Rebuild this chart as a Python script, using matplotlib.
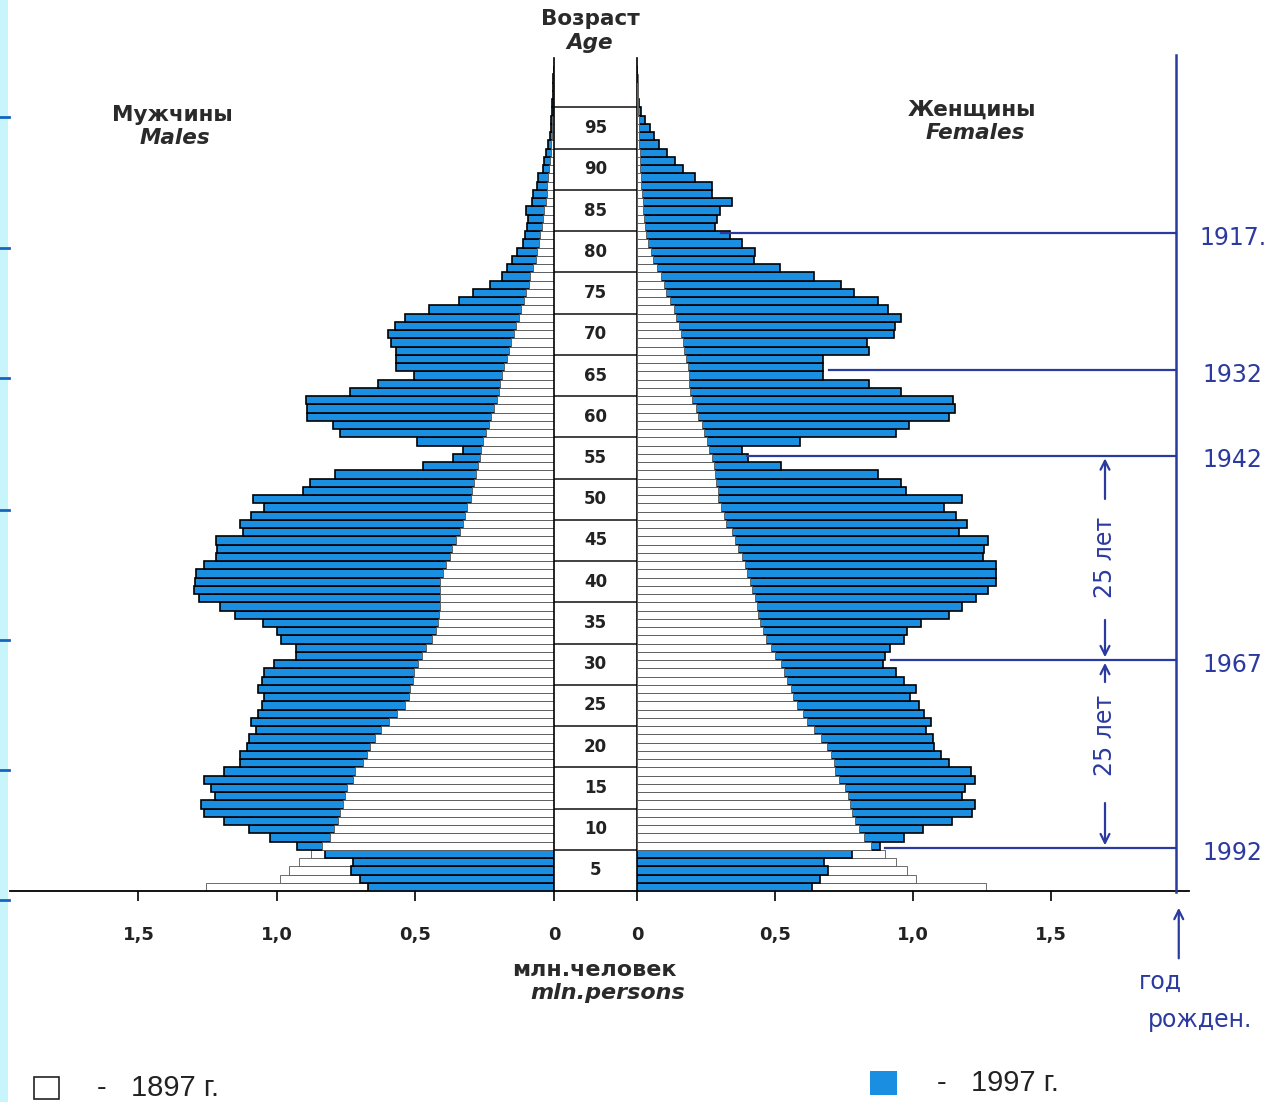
import numpy as np
import matplotlib.pyplot as plt
from matplotlib.patches import Rectangle
from matplotlib.lines import Line2D

# ---- data (mln persons, by single year of age 0..99) ----
ages = np.arange(100)

male_1897 = [1.256, 0.99, 0.956, 0.92, 0.877, 0.836, 0.81, 0.795, 0.78, 0.772,
             0.763, 0.755, 0.747, 0.726, 0.717, 0.689, 0.675, 0.666, 0.647, 0.623,
             0.594, 0.566, 0.538, 0.525, 0.519, 0.51, 0.504, 0.49, 0.477, 0.462,
             0.44, 0.425, 0.42, 0.415, 0.41, 0.41, 0.41, 0.41, 0.40, 0.39,
             0.377, 0.368, 0.353, 0.34, 0.33, 0.32, 0.315, 0.30, 0.296, 0.29,
             0.283, 0.275, 0.268, 0.262, 0.255, 0.245, 0.236, 0.226, 0.217, 0.207,
             0.198, 0.194, 0.189, 0.18, 0.17, 0.164, 0.155, 0.146, 0.138, 0.128,
             0.118, 0.11, 0.10, 0.092, 0.085, 0.075, 0.066, 0.06, 0.055, 0.05,
             0.045, 0.04, 0.035, 0.03, 0.027, 0.024, 0.021, 0.018, 0.015, 0.012,
             0.01, 0.008, 0.007, 0.006, 0.005, 0.004, 0.003, 0.002, 0.002, 0.001]

male_1997 = [0.673, 0.70, 0.733, 0.724, 0.828, 0.927, 1.025, 1.10, 1.19, 1.265,
             1.274, 1.224, 1.24, 1.265, 1.19, 1.132, 1.132, 1.108, 1.10, 1.075,
             1.094, 1.07, 1.053, 1.047, 1.07, 1.053, 1.047, 1.01, 0.93, 0.93,
             0.985, 1.00, 1.05, 1.15, 1.207, 1.283, 1.30, 1.296, 1.292, 1.264,
             1.22, 1.217, 1.22, 1.123, 1.132, 1.094, 1.047, 1.085, 0.906, 0.881,
             0.789, 0.472, 0.364, 0.33, 0.494, 0.774, 0.798, 0.892, 0.892, 0.896,
             0.736, 0.636, 0.504, 0.572, 0.572, 0.572, 0.589, 0.598, 0.575, 0.538,
             0.453, 0.343, 0.292, 0.23, 0.189, 0.17, 0.151, 0.132, 0.113, 0.104,
             0.099, 0.093, 0.10, 0.081, 0.075, 0.063, 0.057, 0.04, 0.036, 0.03,
             0.02, 0.016, 0.012, 0.01, 0.008, 0.006, 0.004, 0.003, 0.002, 0.001]

female_1897 = [1.263, 1.01, 0.977, 0.94, 0.90, 0.848, 0.821, 0.804, 0.79, 0.78,
               0.77, 0.763, 0.754, 0.731, 0.718, 0.712, 0.703, 0.687, 0.665, 0.64,
               0.617, 0.60, 0.58, 0.564, 0.557, 0.545, 0.532, 0.52, 0.50, 0.485,
               0.466, 0.456, 0.447, 0.437, 0.434, 0.428, 0.418, 0.41, 0.40, 0.39,
               0.38, 0.367, 0.356, 0.343, 0.324, 0.314, 0.305, 0.295, 0.293, 0.288,
               0.284, 0.279, 0.27, 0.262, 0.255, 0.244, 0.235, 0.222, 0.212, 0.20,
               0.192, 0.19, 0.188, 0.183, 0.178, 0.172, 0.167, 0.16, 0.153, 0.143,
               0.134, 0.12, 0.106, 0.097, 0.087, 0.072, 0.059, 0.05, 0.04, 0.033,
               0.028, 0.025, 0.022, 0.02, 0.018, 0.016, 0.014, 0.012, 0.011, 0.01,
               0.009, 0.008, 0.007, 0.006, 0.005, 0.004, 0.003, 0.002, 0.002, 0.001]

female_1997 = [0.633, 0.663, 0.693, 0.678, 0.78, 0.88, 0.966, 1.035, 1.142, 1.213,
               1.224, 1.178, 1.19, 1.223, 1.21, 1.13, 1.10, 1.076, 1.072, 1.047,
               1.066, 1.04, 1.02, 0.99, 1.01, 0.968, 0.94, 0.89, 0.90, 0.915,
               0.968, 0.977, 1.03, 1.13, 1.176, 1.227, 1.27, 1.30, 1.30, 1.30,
               1.252, 1.258, 1.27, 1.167, 1.195, 1.157, 1.114, 1.176, 0.973, 0.955,
               0.873, 0.523, 0.403, 0.38, 0.589, 0.94, 0.987, 1.129, 1.152, 1.144,
               0.958, 0.84, 0.674, 0.674, 0.674, 0.84, 0.835, 0.93, 0.936, 0.958,
               0.911, 0.873, 0.788, 0.74, 0.64, 0.519, 0.424, 0.428, 0.38, 0.337,
               0.283, 0.29, 0.30, 0.345, 0.27, 0.27, 0.21, 0.168, 0.136, 0.107,
               0.08, 0.062, 0.047, 0.029, 0.013, 0.008, 0.004, 0.002, 0.001, 0.0]

tick_values = [0, 0.5, 1.0, 1.5]
tick_labels = ['0', '0,5', '1,0', '1,5']
age_labels = list(range(5, 100, 5))

# birth-year marks drawn by hand on the female side
birth_years = ['1917.', '1932', '1942', '1967', '1992']
birth_ages = [79.8, 63.2, 52.8, 28.0, 5.2]

BLUE = '#1a8ee0'
INK = '#2b3a9e'
BOLD = 'DejaVu Sans'
PLAIN = 'Liberation Sans'

W, H = 1268, 1102
fig = plt.figure(figsize=(W / 100, H / 100), dpi=100)
fig.patch.set_facecolor('white')


def box(x0, y0, x1, y1):
    return [x0 / W, 1 - y1 / H, (x1 - x0) / W, (y1 - y0) / H]


def fpos(x, y):
    return x / W, 1 - y / H


ax_m = fig.add_axes(box(10, 58, 554, 891))
ax_c = fig.add_axes(box(554, 58, 637, 891))
ax_f = fig.add_axes(box(637, 58, 1189, 891))


def draw_side(ax, old, new):
    old = np.asarray(old)
    new = np.asarray(new)
    new_back = new >= old
    back = np.maximum(old, new)
    front = np.minimum(old, new)
    # the larger bar of each age goes behind, the smaller one in front
    ax.barh(ages, back, height=1, align='edge',
            color=np.where(new_back, BLUE, 'white'),
            edgecolor=np.where(new_back, 'black', '#555555'),
            linewidth=np.where(new_back, 1.2, 0.6), zorder=2)
    ax.barh(ages, front, height=1, align='edge',
            color=np.where(new_back, 'white', BLUE),
            edgecolor=np.where(new_back, '#555555', 'black'),
            linewidth=np.where(new_back, 0.6, 1.2), zorder=3)


draw_side(ax_m, male_1897, male_1997)
draw_side(ax_f, female_1897, female_1997)

ax_m.set_xlim(544 / 277, 0)
ax_f.set_xlim(0, 552 / 276)
for ax in (ax_m, ax_f, ax_c):
    ax.set_ylim(0, 101)
    ax.set_yticks([])
    ax.set_facecolor('none')
    ax.spines['top'].set_visible(False)
    ax.spines['bottom'].set_linewidth(1.3)

for ax in (ax_m, ax_f):
    ax.spines['left'].set_visible(False)
    ax.spines['right'].set_visible(False)
    ax.set_xticks(tick_values)
    ax.set_xticklabels(tick_labels, fontsize=13, fontweight='bold', family=BOLD,
                       color='#222222')
    ax.tick_params(axis='x', length=7, width=1.2, pad=18)

# central age column
ax_c.set_xlim(0, 1)
ax_c.set_xticks([])
ax_c.spines['left'].set_linewidth(1.2)
ax_c.spines['right'].set_linewidth(1.2)
ax_c.hlines(age_labels, 0, 1, color='#333333', linewidth=1.3)
for a in age_labels:
    ax_c.text(0.5, a - 2.5, str(a), ha='center', va='center', fontsize=12,
              fontweight='bold', family=BOLD, color='#222222')

# titles
title_kw = dict(ha='center', va='center', fontsize=15.5, fontweight='bold',
                family=BOLD, color='#2a2a2a')
fig.text(*fpos(590, 19), 'Возраст', **title_kw)
fig.text(*fpos(590, 43), 'Age', style='italic', **title_kw)
fig.text(*fpos(172, 115), 'Мужчины', **title_kw)
fig.text(*fpos(175, 138), 'Males', style='italic', **title_kw)
fig.text(*fpos(972, 110), 'Женщины', **title_kw)
fig.text(*fpos(975, 133), 'Females', style='italic', **title_kw)
unit_kw = dict(title_kw, fontsize=16)
fig.text(*fpos(594, 970), 'млн.человек', **unit_kw)
fig.text(*fpos(608, 993), 'mln.persons', style='italic', **unit_kw)

# hand-drawn birth-year marks
x_vline = (1176 - 637) / 276
ax_f.plot([x_vline, x_vline], [-0.1, 101.4], color=INK, linewidth=1.8,
          clip_on=False, zorder=4)
for label, a in zip(birth_years, birth_ages):
    x0 = female_1997[int(round(a))] + 0.02
    ax_f.plot([x0, x_vline], [a, a], color=INK, linewidth=1.6, clip_on=False,
              zorder=4)
    ax_f.text(x_vline + 0.205, a - 0.6, label, ha='center', va='center',
              fontsize=17, color=INK, clip_on=False)

x_arr = (1105 - 637) / 276
arrow = dict(arrowstyle='->', color=INK, lw=1.6, mutation_scale=16)
ax_f.annotate('', xy=(x_arr, 52.8), xytext=(x_arr, 47.2), arrowprops=arrow,
              annotation_clip=False)
ax_f.annotate('', xy=(x_arr, 28.0), xytext=(x_arr, 33.2), arrowprops=arrow,
              annotation_clip=False)
ax_f.annotate('', xy=(x_arr, 28.0), xytext=(x_arr, 25.0), arrowprops=arrow,
              annotation_clip=False)
ax_f.annotate('', xy=(x_arr, 5.2), xytext=(x_arr, 11.0), arrowprops=arrow,
              annotation_clip=False)
ax_f.text(x_arr, 40.5, '25 лет', rotation=90, ha='center', va='center',
          fontsize=17, color=INK)
ax_f.text(x_arr, 18.9, '25 лет', rotation=90, ha='center', va='center',
          fontsize=17, color=INK)
ax_f.annotate('', xy=(x_vline + 0.01, -1.7), xytext=(x_vline + 0.01, -8.5),
              arrowprops=dict(arrowstyle='->', color=INK, lw=1.6,
                              mutation_scale=16),
              annotation_clip=False)
fig.text(*fpos(1160, 982), 'год', ha='center', va='center', fontsize=17,
         color=INK)
fig.text(*fpos(1200, 1020), 'рожден.', ha='center', va='center', fontsize=17,
         color=INK)

# legend
fig.add_artist(Rectangle(fpos(34, 1099), 25 / W, 22 / H, transform=fig.transFigure,
                         facecolor='white', edgecolor='#222222', linewidth=1.2))
fig.text(*fpos(97, 1088), '-   1897 г.', ha='left', va='center', fontsize=21,
         family=PLAIN, color='#222222')
fig.add_artist(Rectangle(fpos(870, 1095), 27 / W, 24 / H, transform=fig.transFigure,
                         facecolor=BLUE, edgecolor='none'))
fig.text(*fpos(937, 1083), '-   1997 г.', ha='left', va='center', fontsize=21,
         family=PLAIN, color='#222222')

# slide frame on the left
fig.add_artist(Rectangle((0, 0), 8 / W, 1, transform=fig.transFigure,
                         facecolor='#c8f5fc', edgecolor='none'))
for y in [117, 248, 378, 510, 640, 770, 900]:
    fig.add_artist(Line2D([0, 9 / W], [1 - y / H, 1 - y / H],
                          transform=fig.transFigure, color='#1565c0', linewidth=2))

fig.savefig('out.png', dpi=100, facecolor='white')
